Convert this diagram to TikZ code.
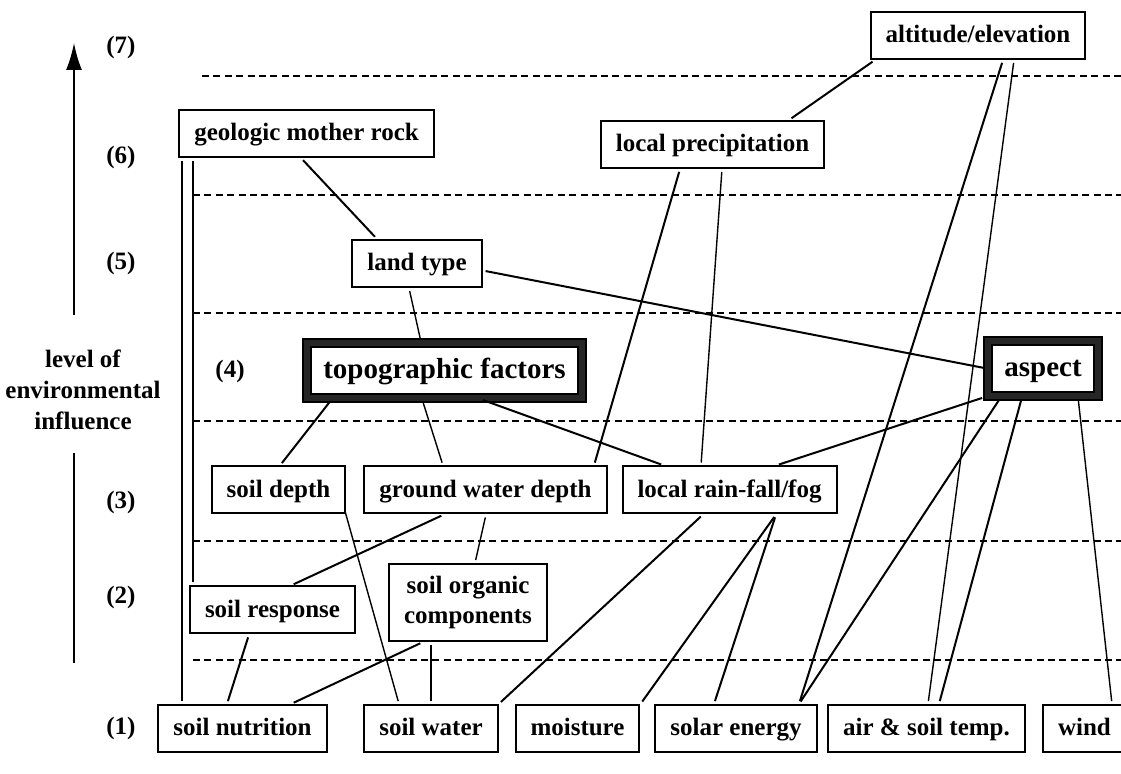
\documentclass[tikz,border=0pt]{standalone}
\usepackage{fontspec}
\setmainfont{Liberation Serif}
\usetikzlibrary{arrows.meta, calc}

\tikzset{
  factorbase/.style={draw, line width=1pt, fill=white, inner xsep=7.5pt, inner ysep=0pt,
    minimum height=23.5pt, align=center, font=\fontsize{12.5}{15}\selectfont\bfseries},
  factor/.style={factorbase, text height=9.5pt, text depth=2pt},
  keyfactor/.style={draw, line width=1pt, double=black!85, double distance=3pt, fill=white,
    inner xsep=8.25pt, inner ysep=0pt, minimum height=27.5pt, text height=10.8pt, text depth=2.4pt,
    font=\fontsize{14.5}{17}\selectfont\bfseries},
  link/.style={line width=1pt, shorten <=1.5pt, shorten >=1.5pt},
  thinlink/.style={line width=0.7pt},
  lvlnum/.style={font=\fontsize{12.5}{15.5}\selectfont\bfseries, align=center},
  stratum/.style={line width=1pt, dash pattern=on 3.5pt off 2.2pt}
}

\begin{document}
\begin{tikzpicture}[x=0.5pt, y=-0.5pt]
    \useasboundingbox (0,0) rectangle (1121,774);

    % levels
    \draw[stratum] (202,76) -- (1121,76);
    \foreach \y in {195,313,421,541,660}
        \draw[stratum] (193,\y) -- (1121,\y);

    \node[lvlnum] (l7) at (121,47) {(7)};
    \node[lvlnum] (l6) at (121,157) {(6)};
    \node[lvlnum] (l5) at (121,263) {(5)};
    \node[lvlnum] (l4) at (230,371) {(4)};
    \node[lvlnum] (l3) at (121,502) {(3)};
    \node[lvlnum] (l2) at (121,597) {(2)};
    \node[lvlnum] (l1) at (121,728) {(1)};

    \node[lvlnum] (axis) at (83,390) {level of\\environmental\\influence};
    \coordinate (axtop) at (74,43);
    \coordinate (axmid) at (74,315);
    \coordinate (axlow) at (74,453);
    \coordinate (axbot) at (74,663);
    \draw[line width=1pt, -{Latex[length=13.5pt, width=8pt]}] (axmid) -- (axtop);
    \draw[line width=1pt] (axlow) -- (axbot);

    % factors
    \node[factor] (alt) at (978,35.5) {altitude/elevation};
    \node[factor] (lprec) at (712.5,144.5) {local precipitation};
    \node[factor] (geo) at (306.5,133.5) {geologic mother rock};
    \node[factor] (land) at (417,263.5) {land type};
    \node[keyfactor] (topo) at (444.5,370.5) {topographic factors};
    \node[keyfactor] (aspect) at (1043,368.5) {aspect};
    \node[factor] (sdepth) at (278.5,490) {soil depth};
    \node[factor] (gwd) at (485.5,490) {ground water depth};
    \node[factor] (rain) at (729.5,490) {local rain-fall/fog};
    \node[factor] (sresp) at (272.5,610) {soil response};
    \node[factorbase, minimum height=38.5pt] (sorg) at (468,602.5) {soil organic\\components};
    \node[factor] (snut) at (242.5,728.5) {soil nutrition};
    \node[factor] (swater) at (431,728.5) {soil water};
    \node[factor] (moist) at (577.5,728.5) {moisture};
    \node[factor] (solar) at (736,728.5) {solar energy};
    \node[factor] (air) at (926.5,728.5) {air \& soil temp.};
    \node[factor, anchor=west] (wind) at (1042,728.5) {wind};

    \path[link]
        ($(alt.south)+(-103,0)$) edge ($(lprec.north)+(76.5,0)$)
        ($(alt.south)+(25,0)$) edge ($(solar.north)+(63,0)$)
        ($(alt.south)+(36,0)$) edge[thinlink] ($(air.north)+(1.5,0)$)
        ($(geo.south)+(-124.5,0)$) edge ($(snut.north)+(-60.5,0)$)
        ($(geo.south)+(-113.5,0)$) edge ($(sresp.north)+(-79.5,0)$)
        ($(geo.south)+(-5.5,0)$) edge ($(land.north)+(-40,0)$)
        ($(land.south)+(-8,0)$) edge[thinlink] ($(topo.north)+(-23.5,0)$)
        ($(land.east)+(0,7)$) edge (aspect.west)
        ($(lprec.south)+(-32.5,0)$) edge ($(gwd.north)+(108.5,0)$)
        ($(lprec.south)+(9.5,0)$) edge[thinlink] ($(rain.north)+(-28.5,0)$)
        ($(topo.south)+(-112.5,0)$) edge ($(sdepth.north)+(1.5,0)$)
        ($(topo.south)+(-22.5,0)$) edge[thinlink] ($(gwd.north)+(-42.5,0)$)
        ($(topo.south)+(35.5,0)$) edge ($(rain.north)+(-65.5,0)$)
        ($(aspect.south)+(-58,0)$) edge ($(rain.north)+(46.5,0)$)
        ($(aspect.south)+(-42,0)$) edge ($(solar.north)+(63,0)$)
        ($(aspect.south)+(-21,0)$) edge ($(air.north)+(12.5,0)$)
        ($(aspect.south)+(35,0)$) edge[thinlink] ($(wind.north west)+(70,0)$)
        ($(sdepth.south east)+(-2,-6)$) edge[thinlink] ($(swater.north)+(-32,0)$)
        ($(gwd.south)+(-41.5,0)$) edge ($(sresp.north)+(18.5,0)$)
        ($(gwd.south)+(0.5,0)$) edge[thinlink] ($(sorg.north)+(7,0)$)
        ($(sresp.south)+(-23.5,0)$) edge ($(snut.north)+(-15.5,0)$)
        ($(sorg.south)+(-45,0)$) edge ($(snut.north)+(48.5,0)$)
        ($(sorg.south)+(-37,0)$) edge[thinlink] (swater.north)
        ($(rain.south)+(-26.5,0)$) edge (swater.north east)
        ($(rain.south)+(46.5,0)$) edge (moist.north east)
        ($(rain.south)+(46.5,0)$) edge ($(solar.north)+(-22,0)$);
\end{tikzpicture}
\end{document}
